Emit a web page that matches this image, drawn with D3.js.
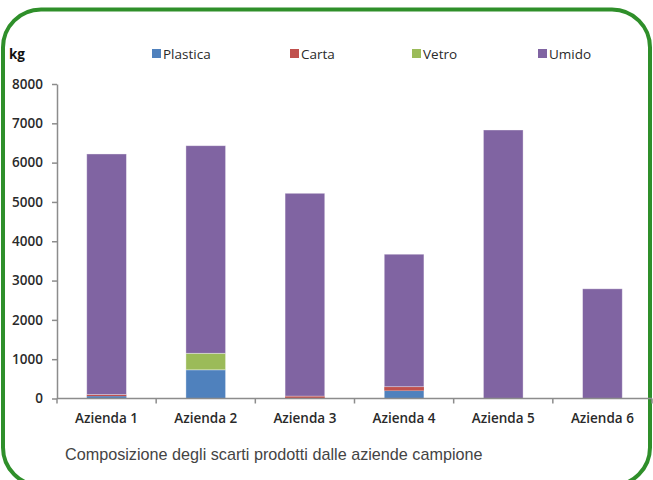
<!DOCTYPE html>
<html>
<head>
<meta charset="utf-8">
<script src="https://cdn.jsdelivr.net/npm/d3@7"></script>
<style>
  html, body { margin: 0; padding: 0; background: #fff; }
  svg { display: block; }
</style>
</head>
<body>
<script>
// Waste composition per company (kg)
const categories = ["Azienda 1", "Azienda 2", "Azienda 3", "Azienda 4", "Azienda 5", "Azienda 6"];
const seriesNames = ["Plastica", "Carta", "Vetro", "Umido"];
const plastica = [60, 730, 10, 200, 0, 0];
const carta = [40, 0, 50, 100, 0, 0];
const vetro = [0, 420, 0, 0, 0, 0];
const umido = [6120, 5280, 5160, 3370, 6830, 2790];
const yTicks = [0, 1000, 2000, 3000, 4000, 5000, 6000, 7000, 8000];
const colors = ["#4f81bd", "#c0504d", "#9bbb59", "#8064a2"];
const caption = "Composizione degli scarti prodotti dalle aziende campione";

const W = 653, H = 480;
const svg = d3.select("body").append("svg").attr("width", W).attr("height", H);

// green rounded frame
svg.append("rect")
  .attr("x", 3).attr("y", 9.5)
  .attr("width", 647).attr("height", 476)
  .attr("rx", 38).attr("ry", 38)
  .attr("fill", "none")
  .attr("stroke", "#2f8f2a")
  .attr("stroke-width", 4);

const table = categories.map((c, i) => ({
  cat: c, Plastica: plastica[i], Carta: carta[i], Vetro: vetro[i], Umido: umido[i]
}));
const stacked = d3.stack().keys(seriesNames)(table);

const x = d3.scaleBand().domain(categories).range([57, 652]).paddingInner(0.6).paddingOuter(0.3);
const y = d3.scaleLinear().domain([0, 8000]).range([398.5, 84]);

const font = "'Open Sans', Lato, sans-serif";

// bars
svg.append("g").selectAll("g").data(stacked).join("g")
  .attr("fill", (d, i) => colors[i])
  .selectAll("rect").data(d => d).join("rect")
  .attr("x", d => x(d.data.cat))
  .attr("width", x.bandwidth())
  .attr("y", d => y(d[1]))
  .attr("height", d => y(d[0]) - y(d[1]))
  .attr("stroke", d => (y(d[0]) - y(d[1])) > 6 ? "rgba(255,255,255,0.45)" : "none")
  .attr("stroke-width", 0.8);

// y axis
const yAxis = svg.append("g").attr("transform", "translate(57,0)")
  .call(d3.axisLeft(y).tickValues(yTicks).tickSize(5).tickPadding(9).tickSizeOuter(0).tickFormat(d3.format("d")));
yAxis.select(".domain").attr("stroke", "#8c8c8c").attr("stroke-width", 1.5);
yAxis.selectAll(".tick line").attr("stroke", "#8c8c8c").attr("stroke-width", 1.5);
yAxis.selectAll("text").attr("font-family", font).attr("font-size", 13.5).attr("font-weight", 600).attr("fill", "#2a2a2a");

// x axis with ticks at category boundaries
const xAxis = svg.append("g").attr("transform", "translate(0,398.5)");
xAxis.append("line").attr("x1", 57).attr("x2", 652).attr("stroke", "#8c8c8c").attr("stroke-width", 1.5);
const step = x.step();
const bounds = d3.range(categories.length + 1).map(i => 57 + i * step);
xAxis.selectAll(".bt").data(bounds).join("line")
  .attr("x1", d => d).attr("x2", d => d).attr("y1", 0).attr("y2", 5)
  .attr("stroke", "#8c8c8c").attr("stroke-width", 1.5);
xAxis.selectAll("text").data(categories).join("text")
  .attr("x", d => x(d) + x.bandwidth() / 2)
  .attr("y", 24)
  .attr("text-anchor", "middle")
  .attr("font-family", font).attr("font-size", 13.5).attr("font-weight", 600).attr("fill", "#2a2a2a")
  .text(d => d);

// unit label
svg.append("text").attr("x", 9).attr("y", 59)
  .attr("font-family", font).attr("font-size", 13.5).attr("font-weight", "bold").attr("fill", "#111")
  .text("kg");

// legend
const legendX = [152, 290, 412, 538];
const lg = svg.append("g").selectAll("g").data(seriesNames).join("g")
  .attr("transform", (d, i) => `translate(${legendX[i]},52)`);
lg.append("rect").attr("x", 0).attr("y", -3).attr("width", 9).attr("height", 9)
  .attr("fill", (d, i) => colors[i]);
lg.append("text").attr("x", 11).attr("y", 6.5)
  .attr("font-family", font).attr("font-size", 13.5).attr("font-weight", 500).attr("fill", "#2a2a2a")
  .text(d => d);

// caption
svg.append("text").attr("x", 65).attr("y", 460)
  .attr("font-family", "'Liberation Sans', Arial, sans-serif").attr("font-size", 16.2).attr("fill", "#444")
  .text(caption);
</script>
</body>
</html>
